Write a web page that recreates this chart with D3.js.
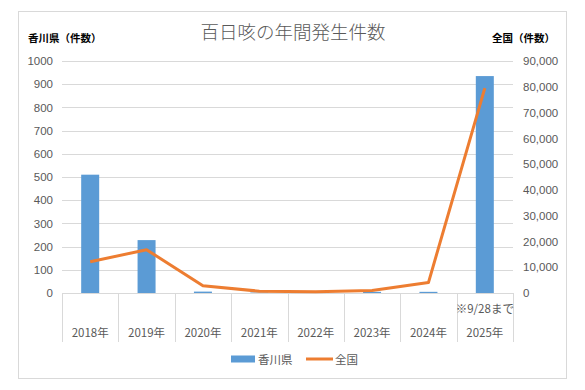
<!DOCTYPE html>
<html>
<head>
<meta charset="utf-8">
<script src="https://cdn.jsdelivr.net/npm/d3@7"></script>
<style>
  body { margin: 0; background: #fff; }
  svg { font-family: "Noto Sans CJK JP", "Noto Sans", sans-serif; }
  .tick text { fill: #595959; font-size: 11.5px; }
</style>
</head>
<body>
<svg width="585" height="390"></svg>
<script>
// data
var years = ["2018年", "2019年", "2020年", "2021年", "2022年", "2023年", "2024年", "2025年"];
var kagawa = [510, 228, 6, 2, 0, 5, 5, 935];
var zenkoku = [12100, 16800, 2800, 700, 500, 1000, 4050, 79500];
var leftTicks = d3.range(0, 1001, 100);
var rightTicks = d3.range(0, 90001, 10000);
var note2025 = "※9/28まで";

var svg = d3.select("svg");
var margin = {top: 61, left: 62, right: 513, bottom: 293};

svg.append("rect")
    .attr("x", 18.5).attr("y", 11.5)
    .attr("width", 548).attr("height", 367)
    .attr("fill", "#fff").attr("stroke", "#d9d9d9");

var x = d3.scaleBand().domain(years).range([margin.left, margin.right]);
var yL = d3.scaleLinear().domain([0, 1000]).range([margin.bottom, margin.top]);
var yR = d3.scaleLinear().domain([0, 90000]).range([margin.bottom, margin.top]);

// gridlines
svg.append("g").selectAll("line")
  .data(leftTicks.slice(1))
  .enter().append("line")
    .attr("x1", margin.left).attr("x2", margin.right)
    .attr("y1", function(d){ return Math.round(yL(d)) + 0.5; })
    .attr("y2", function(d){ return Math.round(yL(d)) + 0.5; })
    .attr("stroke", "#d9d9d9");

// left axis
var gL = svg.append("g")
    .attr("transform", "translate(" + [margin.left - 9, 0] + ")")
    .call(d3.axisLeft(yL).tickValues(leftTicks).tickSize(0).tickPadding(0).tickFormat(d3.format("d")));
gL.select(".domain").remove();

// right axis
var gR = svg.append("g")
    .attr("transform", "translate(" + [margin.right + 10, 0] + ")")
    .call(d3.axisRight(yR).tickValues(rightTicks).tickSize(0).tickPadding(0).tickFormat(d3.format(",")));
gR.select(".domain").remove();

// bars
svg.append("g").selectAll("rect")
  .data(kagawa)
  .enter().append("rect")
    .attr("x", function(d, i){ return x(years[i]) + x.bandwidth()/2 - 9; })
    .attr("width", 18)
    .attr("y", function(d){ return yL(d); })
    .attr("height", function(d){ return margin.bottom - yL(d); })
    .attr("fill", "#5b9bd5");

// category axis
svg.append("line")
    .attr("x1", margin.left).attr("x2", margin.right)
    .attr("y1", margin.bottom + 0.5).attr("y2", margin.bottom + 0.5)
    .attr("stroke", "#d9d9d9");
svg.append("g").selectAll("line")
  .data(years.concat(["end"]))
  .enter().append("line")
    .attr("x1", function(d, i){ return Math.round(margin.left + i * x.bandwidth()) + 0.5; })
    .attr("x2", function(d, i){ return Math.round(margin.left + i * x.bandwidth()) + 0.5; })
    .attr("y1", margin.bottom).attr("y2", 342)
    .attr("stroke", "#d9d9d9");
svg.append("g").selectAll("text")
  .data(years)
  .enter().append("text")
    .attr("x", function(d){ return x(d) + x.bandwidth()/2; })
    .attr("y", 337)
    .attr("text-anchor", "middle")
    .attr("fill", "#595959").attr("font-size", 11.5)
    .text(function(d){ return d; });
svg.append("text")
    .attr("x", x("2025年") + x.bandwidth()/2)
    .attr("y", 313)
    .attr("text-anchor", "middle")
    .attr("fill", "#595959").attr("font-size", 11.5)
    .text(note2025);

// line
var line = d3.line()
    .x(function(d, i){ return x(years[i]) + x.bandwidth()/2; })
    .y(function(d){ return yR(d); });
svg.append("path")
    .datum(zenkoku)
    .attr("d", line)
    .attr("fill", "none")
    .attr("stroke", "#ed7d31")
    .attr("stroke-width", 3)
    .attr("stroke-linejoin", "round");

// titles
svg.append("text")
    .attr("x", 293).attr("y", 39)
    .attr("text-anchor", "middle")
    .attr("fill", "#595959").attr("font-size", 18.5).attr("font-weight", 300)
    .text("百日咳の年間発生件数");
svg.append("text")
    .attr("x", 28).attr("y", 42)
    .attr("fill", "#000").attr("font-size", 10.5).attr("font-weight", "bold")
    .text("香川県（件数）");
svg.append("text")
    .attr("x", 492).attr("y", 42)
    .attr("fill", "#000").attr("font-size", 10.5).attr("font-weight", "bold")
    .text("全国（件数）");

// legend
var legend = svg.append("g").attr("transform", "translate(0,359)");
legend.append("rect").attr("x", 231).attr("y", -3.5).attr("width", 24).attr("height", 7).attr("fill", "#5b9bd5");
legend.append("text").attr("x", 258).attr("y", 4.5).attr("fill", "#595959").attr("font-size", 11.5).text("香川県");
legend.append("line").attr("x1", 306).attr("x2", 333).attr("y1", 0).attr("y2", 0)
    .attr("stroke", "#ed7d31").attr("stroke-width", 3);
legend.append("text").attr("x", 335).attr("y", 4.5).attr("fill", "#595959").attr("font-size", 11.5).text("全国");
</script>
</body>
</html>
